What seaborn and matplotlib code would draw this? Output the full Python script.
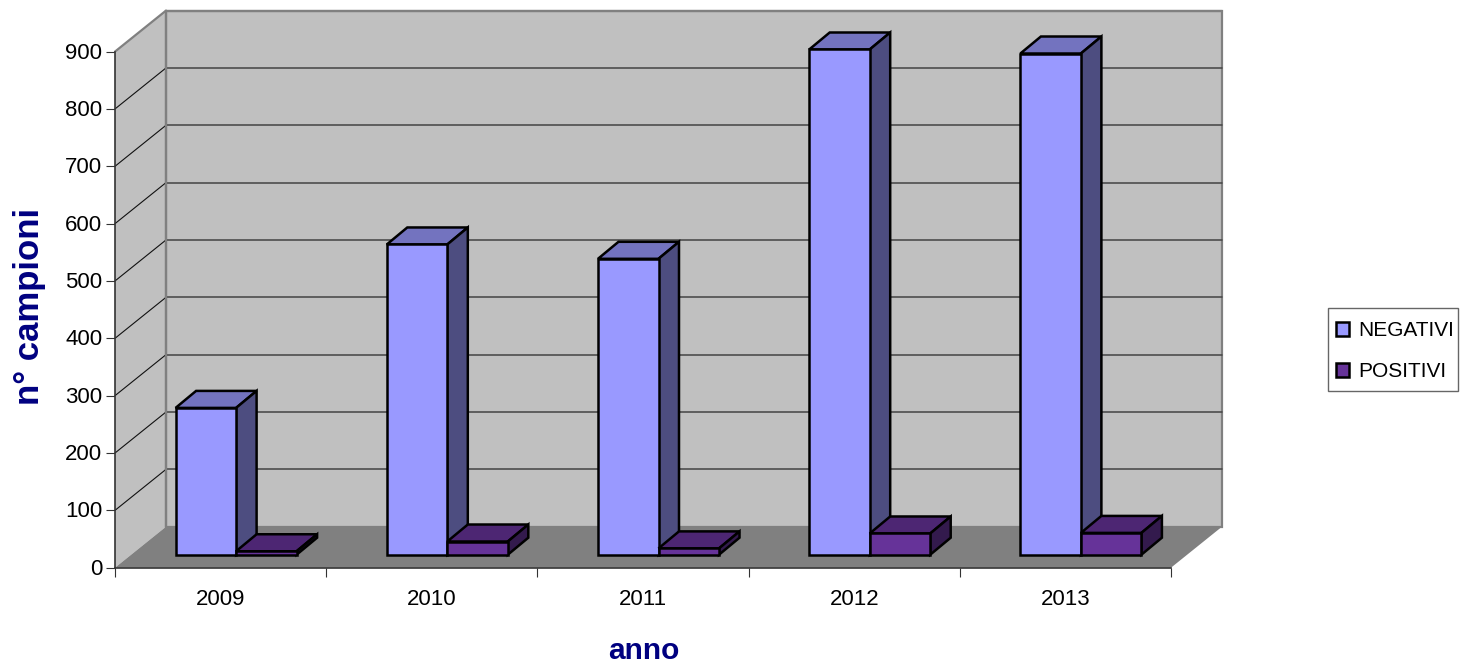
import pandas as pd
import numpy as np
import matplotlib
matplotlib.use("Agg")
import matplotlib.pyplot as plt
from matplotlib.patches import Polygon, Rectangle
from matplotlib.transforms import ScaledTranslation
import seaborn as sns

anni = ["2009", "2010", "2011", "2012", "2013"]
negativi = [256, 541, 516, 881, 874]
positivi = [6, 23, 11, 37, 38]
serie = ["NEGATIVI", "POSITIVI"]
y_ticks = [0, 100, 200, 300, 400, 500, 600, 700, 800, 900]

sns.set_theme(style="white")
plt.rcParams["font.family"] = ["Liberation Sans", "DejaVu Sans"]

W, H = 1465, 663
left, base_y, top_y, right = 115, 567.7, 51.6, 1171

df = pd.DataFrame({
    "anno": anni * 2,
    "n": negativi + positivi,
    "esito": [serie[0]] * 5 + [serie[1]] * 5,
})

fig = plt.figure(figsize=(W / 100, H / 100), dpi=100, facecolor="white")


def make_axes(dx=0, dy=0):
    return fig.add_axes([(left + dx) / W, (H - base_y + dy) / H,
                         (right - left) / W, (base_y - top_y) / H])


# main axes: walls, floor and ticks
ax = make_axes()
ax.set_xlim(-0.5, 4.5)
ax.set_ylim(0, 900)
ax.patch.set_visible(False)
px_x = 5 / (right - left)
px_y = 900 / (base_y - top_y)

wall_dx, wall_dy = 51 * px_x, 41 * px_y
x0, x1 = -0.5, 4.5
ax.add_patch(Polygon([(x0, 0), (x0 + wall_dx, wall_dy), (x0 + wall_dx, 900 + wall_dy), (x0, 900)],
                     fc="#C0C0C0", ec="none", clip_on=False, zorder=1))
ax.add_patch(Polygon([(x0 + wall_dx, wall_dy), (x1 + wall_dx, wall_dy), (x1 + wall_dx, 900 + wall_dy), (x0 + wall_dx, 900 + wall_dy)],
                     fc="#C0C0C0", ec="#808080", lw=1.6, clip_on=False, zorder=1))
ax.add_patch(Polygon([(x0, 0), (x1, 0), (x1 + wall_dx, wall_dy), (x0 + wall_dx, wall_dy)],
                     fc="#808080", ec="none", clip_on=False, zorder=1.5))
ax.plot([x0, x0 + wall_dx], [900, 900 + wall_dy], color="#808080", lw=1.6, clip_on=False, zorder=2)
for v in y_ticks[1:-1]:
    ax.plot([x0, x0 + wall_dx], [v, v + wall_dy], color="#111111", lw=0.8, clip_on=False, zorder=2)
    ax.plot([x0 + wall_dx, x1 + wall_dx], [v + wall_dy, v + wall_dy], color="#444444", lw=1.1, clip_on=False, zorder=2)
ax.plot([x0 + wall_dx, x0 + wall_dx], [wall_dy, 900 + wall_dy], color="#808080", lw=1.6, clip_on=False, zorder=2)
ax.plot([x0 + wall_dx, x1 + wall_dx], [900 + wall_dy, 900 + wall_dy], color="#808080", lw=1.6, clip_on=False, zorder=2)

sns.despine(ax=ax, top=True, right=True)
for s in ["left", "bottom"]:
    ax.spines[s].set_color("#333333")
    ax.spines[s].set_linewidth(1.2)
    ax.spines[s].set_zorder(5)
ax.set_yticks(y_ticks)
ax.set_xticks(np.arange(-0.5, 4.6, 1))
ax.set_xticklabels([])
ax.set_xticks(np.arange(5), labels=anni, minor=True)
ax.tick_params(axis="x", which="major", bottom=True, length=6.5, width=0.8, color="#333333")
ax.tick_params(axis="x", which="minor", bottom=False, length=0, pad=15, labelsize=16, labelcolor="black")
ax.tick_params(axis="y", left=True, length=6.5, width=0.8, color="#333333", pad=2.5, labelsize=16, labelcolor="black")
# the y labels sit a pixel above their ticks in the original
nudge = ScaledTranslation(0, 1 / 100, fig.dpi_scale_trans)
for lab in ax.get_yticklabels():
    lab.set_transform(lab.get_transform() + nudge)

# bars live on their own axes, moved into the middle of the floor depth
ax_b = make_axes(15.5, 13)
ax_b.patch.set_visible(False)
sns.barplot(data=df, x="anno", y="n", hue="esito", hue_order=serie, palette=["#9999FF", "#663399"],
            width=0.573, gap=0, saturation=1, edgecolor="black", linewidth=1.8, legend=False, ax=ax_b)
ax_b.set_xlim(-0.5, 4.5)
ax_b.set_ylim(0, 900)
ax_b.axis("off")

bar_dx, bar_dy = 20.5 * px_x, 17 * px_y
top_cols = ["#7373BF", "#4D2673"]
side_cols = ["#4D4D80", "#331A4D"]
for i, cont in enumerate(ax_b.containers):
    for p in cont:
        p.set_clip_on(False)
        p.set_zorder(2 + 2 * i)
        xa, xb = p.get_x(), p.get_x() + p.get_width()
        h = p.get_height()
        ax_b.add_patch(Polygon([(xa, h), (xa + bar_dx, h + bar_dy), (xb + bar_dx, h + bar_dy), (xb, h)],
                               fc=top_cols[i], ec="black", lw=1.8, joinstyle="miter", clip_on=False, zorder=1 + 2 * i))
        ax_b.add_patch(Polygon([(xb, 0), (xb + bar_dx, bar_dy), (xb + bar_dx, h + bar_dy), (xb, h)],
                               fc=side_cols[i], ec="black", lw=1.8, joinstyle="miter", clip_on=False, zorder=1 + 2 * i))

fig.text(30 / W, 1 - 306.5 / H, "n° campioni", rotation=90, ha="center", va="center",
         fontsize=25, fontweight="bold", color="#000080")
fig.text(643.5 / W, 1 - 651 / H, "anno", ha="center", va="center",
         fontsize=21.5, fontweight="bold", color="#000080")

# legend frame drawn apart so its size can follow the original box
fig.add_artist(Rectangle((1328 / W, 1 - 391 / H), 130 / W, 83 / H, transform=fig.transFigure,
                         fc="white", ec="#666666", lw=1))
leg = fig.legend([c[0] for c in ax_b.containers], serie, loc="upper left",
                 bbox_to_anchor=(1328 / W, 1 - 313 / H), borderaxespad=0, frameon=False,
                 fontsize=15, handlelength=0.6, handleheight=0.65,
                 handletextpad=0.45, labelspacing=1.05, borderpad=0.4, labelcolor="black")

fig.savefig("out.png", dpi=100)
